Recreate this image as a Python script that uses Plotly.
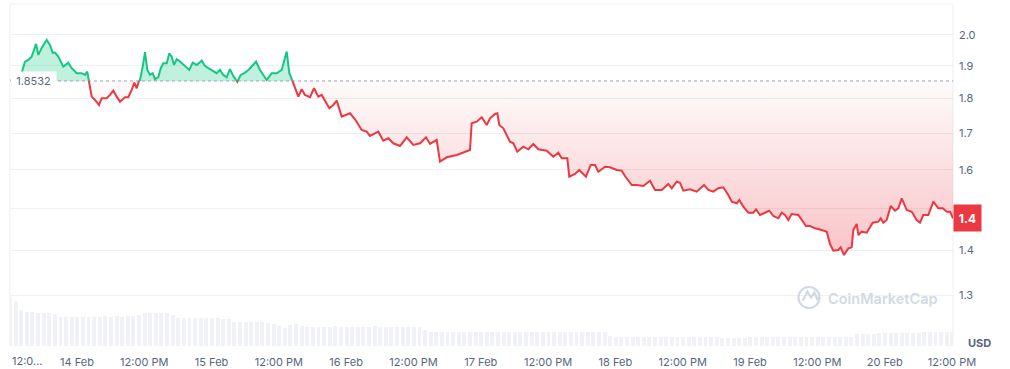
import numpy as np
import pandas as pd
import plotly.graph_objects as go

# ---------------- data ----------------
START = pd.Timestamp("2025-02-13 12:04")

# hours since START
hours = [
    0.00, 2.09, 2.67, 3.26, 3.87, 4.64, 5.05, 5.65, 6.54, 7.13,
    7.61, 8.02, 8.61, 9.50, 10.39, 11.00, 11.89, 12.78, 13.37, 13.78,
    14.08, 14.57, 15.15, 15.87, 16.35, 17.24, 17.83, 18.42, 19.02, 19.61,
    20.50, 21.09, 21.70, 22.16, 22.59, 22.87, 23.18, 23.66, 24.07, 24.48,
    24.96, 25.44, 25.85, 26.44, 26.87, 27.33, 27.94, 28.40, 28.83, 29.24,
    29.72, 30.31, 31.20, 31.97, 32.57, 33.29, 34.18, 34.77, 35.35, 36.25,
    36.85, 37.44, 38.03, 38.63, 39.22, 39.81, 40.52, 41.13, 41.90, 42.66,
    43.86, 44.57, 45.77, 46.66, 47.55, 48.44, 49.33, 49.80, 50.40, 51.40,
    52.01, 52.59, 53.49, 54.20, 54.97, 55.57, 56.93, 57.64, 58.25, 59.14,
    60.62, 61.51, 62.70, 63.59, 64.18, 65.66, 66.55, 67.45, 68.34, 69.53,
    70.73, 71.90, 73.10, 74.17, 74.88, 76.07, 76.66, 77.86, 79.64, 82.01,
    82.31, 83.21, 84.10, 84.99, 85.58, 86.47, 86.88, 87.23, 87.95, 89.14,
    89.73, 90.44, 91.51, 92.41, 93.30, 94.19, 95.69, 96.86, 97.75, 98.36,
    99.36, 99.71, 100.73, 101.50, 102.69, 103.53, 104.30, 104.89, 106.08, 106.97,
    108.16, 109.06, 109.64, 110.84, 111.73, 112.91, 114.10, 114.99, 116.19, 117.37,
    117.97, 118.86, 119.45, 120.04, 121.23, 121.82, 122.43, 123.73, 124.50, 125.39,
    126.28, 127.17, 128.06, 128.67, 129.56, 130.02, 130.74, 131.63, 132.52, 133.00,
    133.71, 134.60, 135.37, 136.09, 136.98, 137.58, 138.17, 138.76, 139.36, 140.54,
    141.43, 141.91, 142.63, 143.52, 144.71, 145.61, 146.19, 146.78, 147.67, 148.10,
    148.69, 149.46, 150.06, 150.35, 150.95, 151.25, 151.84, 152.73, 153.81, 154.80,
    155.23, 155.70, 156.30, 157.02, 157.78, 158.37, 158.98, 159.87, 160.76, 161.65,
    162.24, 162.83, 163.72, 164.61, 165.50, 166.28, 167.00, 167.59, 168.12,
]

prices = [
    1.8532, 1.8789, 1.9135, 1.9189, 1.9294, 1.9704, 1.9348, 1.9574, 1.9835, 1.9670,
    1.9412, 1.9422, 1.9294, 1.8977, 1.9103, 1.8927, 1.8771, 1.8771, 1.8718, 1.8820,
    1.8511, 1.8057, 1.7958, 1.7810, 1.8009, 1.8009, 1.8108, 1.8237, 1.8057, 1.7908,
    1.8039, 1.8039, 1.8258, 1.8481, 1.8310, 1.8511, 1.8563, 1.8977, 1.9435, 1.8873,
    1.8718, 1.8771, 1.8585, 1.8647, 1.8927, 1.9084, 1.9084, 1.9402, 1.9294, 1.9030,
    1.9211, 1.9135, 1.8977, 1.8873, 1.9103, 1.9030, 1.9166, 1.8999, 1.8927, 1.8820,
    1.8771, 1.8873, 1.8718, 1.8647, 1.8895, 1.8687, 1.8510, 1.8718, 1.8789, 1.8895,
    1.9135, 1.8873, 1.8563, 1.8771, 1.8771, 1.8873, 1.9454, 1.8771, 1.8511, 1.8057,
    1.8280, 1.8108, 1.8039, 1.8310, 1.8057, 1.8108, 1.7713, 1.7810, 1.7938, 1.7468,
    1.7567, 1.7393, 1.7088, 1.7040, 1.6919, 1.7040, 1.6788, 1.6854, 1.6715, 1.6641,
    1.6882, 1.6668, 1.6715, 1.6882, 1.6696, 1.6807, 1.6214, 1.6332, 1.6395, 1.6531,
    1.7278, 1.7324, 1.7451, 1.7230, 1.7422, 1.7547, 1.7567, 1.7230, 1.7136, 1.6760,
    1.6715, 1.6484, 1.6622, 1.6550, 1.6696, 1.6550, 1.6512, 1.6349, 1.6457, 1.6305,
    1.6305, 1.5816, 1.5887, 1.5992, 1.5816, 1.6125, 1.6125, 1.5947, 1.6080, 1.6064,
    1.5992, 1.5974, 1.5834, 1.5600, 1.5600, 1.5574, 1.5711, 1.5471, 1.5471, 1.5626,
    1.5515, 1.5685, 1.5659, 1.5453, 1.5489, 1.5453, 1.5428, 1.5600, 1.5471, 1.5428,
    1.5515, 1.5541, 1.5344, 1.5174, 1.5134, 1.5217, 1.5049, 1.4900, 1.4900, 1.4984,
    1.4844, 1.4900, 1.4950, 1.4819, 1.4763, 1.4900, 1.4844, 1.4721, 1.4868, 1.4844,
    1.4680, 1.4576, 1.4576, 1.4520, 1.4479, 1.4439, 1.4147, 1.3991, 1.4008, 1.4070,
    1.3892, 1.4047, 1.4070, 1.4479, 1.4624, 1.4360, 1.4439, 1.4415, 1.4655, 1.4680,
    1.4763, 1.4655, 1.4721, 1.5066, 1.4950, 1.5009, 1.5260, 1.4967, 1.4925, 1.4721,
    1.4655, 1.4844, 1.4844, 1.5174, 1.5009, 1.5009, 1.4925, 1.4925, 1.4763,
]

# hourly volume (relative units)
volumes = [
    48, 45, 36, 34, 34, 33, 33, 33, 32, 29,
    29, 29, 29, 29, 29, 29, 29, 30, 29, 30,
    29, 30, 30, 31, 33, 33, 33.5, 33, 33.5, 31,
    28, 28, 28, 28.5, 28, 28, 28, 28, 27.5, 27,
    24, 24, 24.5, 24.5, 24, 24, 23, 22, 20, 18.5,
    21, 22, 20, 19.5, 19.5, 19, 19.5, 19.5, 20, 19.5,
    19.5, 19, 19.5, 19.5, 19.5, 20, 19.5, 19.5, 19, 19.5,
    19.5, 19.5, 19.5, 19.5, 16, 14, 14, 14, 14, 14,
    14, 14, 14, 14, 14, 14, 14, 14, 14.5, 14.5,
    14.5, 14.5, 14.5, 14, 14.5, 14.5, 14.5, 14.5, 14.5, 14,
    14.5, 14.5, 14.5, 14.5, 14.5, 14, 14, 10, 9.5, 9.5,
    9.5, 9.5, 9.5, 9.5, 9.5, 9.5, 9.5, 9.5, 9.5, 9.5,
    9.5, 9, 9, 9, 9, 9, 9, 8.5, 8, 8,
    8, 8.5, 9, 9, 9, 9.5, 9.5, 9.5, 9.5, 9.5,
    9.5, 9.5, 9.5, 9.5, 9.5, 9.5, 9.5, 9.5, 9.5, 9.5,
    9.5, 12, 12, 12.5, 12.5, 13, 13, 13, 13, 13,
    13.5, 13.5, 13.5, 14, 14, 14, 14, 14, 14,
]

x_tick_times = [
    "2025-02-14 00:00", "2025-02-14 12:00", "2025-02-15 00:00", "2025-02-15 12:00",
    "2025-02-16 00:00", "2025-02-16 12:00", "2025-02-17 00:00", "2025-02-17 12:00",
    "2025-02-18 00:00", "2025-02-18 12:00", "2025-02-19 00:00", "2025-02-19 12:00",
    "2025-02-20 00:00", "2025-02-20 12:00",
]
x_tick_text = [
    "14 Feb", "12:00 PM", "15 Feb", "12:00 PM", "16 Feb", "12:00 PM", "17 Feb",
    "12:00 PM", "18 Feb", "12:00 PM", "19 Feb", "12:00 PM", "20 Feb", "12:00 PM",
]
first_tick_text = "12:0..."
y_tick_vals = [1.3, 1.4, 1.5, 1.6, 1.7, 1.8, 1.9, 2.0]
y_tick_text = ["1.3", "1.4", "1.5", "1.6", "1.7", "1.8", "1.9", "2.0"]
price_badge_text = "1.4"
currency = "USD"
watermark = "CoinMarketCap"

# ---------------- styling ----------------
GREEN = "#16c784"
RED = "#ea3943"
TXT = "#58667e"
FONT = "Inter"

base = prices[0]

# insert baseline crossings so colours switch exactly at the baseline
xs, ys = [], []
for i in range(len(prices)):
    if i > 0:
        p1, p2 = prices[i - 1], prices[i]
        if (p1 - base) * (p2 - base) < 0:
            f = (np.log(base) - np.log(p1)) / (np.log(p2) - np.log(p1))
            xs.append(hours[i - 1] + f * (hours[i] - hours[i - 1]))
            ys.append(base)
    xs.append(hours[i])
    ys.append(prices[i])

t = [START + pd.Timedelta(hours=h) for h in xs]
up = [max(y, base) for y in ys]
down = [min(y, base) for y in ys]
green_line = [y if y >= base else None for y in ys]
red_line = [y if y <= base else None for y in ys]
base_line = [base] * len(ys)

vol_t = [START + pd.Timedelta(hours=i) for i in range(len(volumes))]
t_end = START + pd.Timedelta(hours=hours[-1])

fig = go.Figure()
fig.add_trace(go.Scatter(x=t, y=base_line, mode="lines", line=dict(width=0),
                         hoverinfo="skip", showlegend=False))
fig.add_trace(go.Scatter(x=t, y=up, mode="lines", line=dict(width=0), fill="tonexty",
                         fillcolor="rgba(22,199,132,0.27)", hoverinfo="skip", showlegend=False))
fig.add_trace(go.Scatter(x=t, y=base_line, mode="lines", line=dict(width=0),
                         hoverinfo="skip", showlegend=False))
fig.add_trace(go.Scatter(x=t, y=down, mode="lines", line=dict(width=0), fill="tonexty",
                         fillgradient=dict(type="vertical",
                                           colorscale=[[0, "rgba(234,57,67,0.30)"],
                                                       [1, "rgba(234,57,67,0.02)"]]),
                         hoverinfo="skip", showlegend=False))
fig.add_trace(go.Scatter(x=[START, t_end], y=[base, base], mode="lines",
                         line=dict(color="#9aa3b5", width=1, dash="dot"),
                         hoverinfo="skip", showlegend=False))
fig.add_trace(go.Scatter(x=t, y=green_line, mode="lines", connectgaps=False,
                         line=dict(color=GREEN, width=2), showlegend=False))
fig.add_trace(go.Scatter(x=t, y=red_line, mode="lines", connectgaps=False,
                         line=dict(color=RED, width=2), showlegend=False))
fig.add_trace(go.Bar(x=vol_t, y=volumes, yaxis="y2", width=3600000 * 0.7,
                     marker=dict(color="#f0f2f5", line=dict(width=0)), showlegend=False))

W, H = 1010, 369
ML, MR, MT, MB = 10, 57, 4, 23
PW, PH = W - ML - MR, H - MT - MB


def px_x(px):
    return (px - ML) / PW


def px_y(py):
    return (H - MB - py) / PH


fig.update_layout(
    width=W, height=H,
    margin=dict(l=ML, r=MR, t=MT, b=MB, autoexpand=False),
    paper_bgcolor="white", plot_bgcolor="white",
    font=dict(family=FONT, color=TXT, size=11),
    showlegend=False,
    xaxis=dict(type="date", range=[START, t_end], showgrid=False, zeroline=False,
               showline=False, ticks="", tickvals=x_tick_times, ticktext=x_tick_text,
               tickfont=dict(family=FONT, size=11, color=TXT), ticklabelstandoff=8,
               automargin=False),
    yaxis=dict(type="log", range=[np.log10(1.195), np.log10(2.105)], side="right",
               tickvals=y_tick_vals, ticktext=y_tick_text, showgrid=True,
               gridcolor="#eef0f3", gridwidth=1, zeroline=False, showline=False, ticks="",
               tickfont=dict(family=FONT, size=11, color=TXT), ticklabelstandoff=5,
               automargin=False),
    yaxis2=dict(overlaying="y", range=[0, max(volumes) * PH / 48], visible=False,
                automargin=False),
    bargap=0,
)

ann = []
ann.append(dict(x=0, xref="paper", xanchor="left", y=np.log10(base), yref="y",
                yanchor="middle", text=f"{base:.4f}", showarrow=False, bgcolor="white",
                width=43, height=16, borderpad=1,
                font=dict(family=FONT, size=11, color=TXT)))
ann.append(dict(x=1, xref="paper", xanchor="left", y=np.log10(prices[-1]), yref="y",
                yanchor="middle", text=f"<b>{price_badge_text}</b>", showarrow=False,
                bgcolor=RED, width=23, height=22, borderpad=2,
                font=dict(family=FONT, size=12, color="white")))
ann.append(dict(x=px_x(979), xref="paper", xanchor="center", y=px_y(343), yref="paper",
                yanchor="middle", text=f"<b>{currency}</b>", showarrow=False,
                font=dict(family=FONT, size=11, color=TXT)))
ann.append(dict(x=px_x(27), xref="paper", xanchor="center", y=px_y(361), yref="paper",
                yanchor="middle", text=first_tick_text, showarrow=False,
                font=dict(family=FONT, size=11, color=TXT)))
ann.append(dict(x=px_x(883), xref="paper", xanchor="center", y=px_y(298), yref="paper",
                yanchor="middle", text=watermark, showarrow=False,
                font=dict(family=FONT, size=14.5, color="#d3d9e3", weight=600)))
fig.update_layout(annotations=ann)

WM = "#d3d9e3"
shapes = [
    dict(type="path", xref="paper", yref="paper", path="M 0 0 L 0 1 L 1 1 L 1 0",
         line=dict(color="#eceff3", width=1), layer="below"),
    dict(type="circle", xref="paper", yref="paper",
         x0=px_x(798.5), x1=px_x(819.5), y0=px_y(308), y1=px_y(287),
         line=dict(color=WM, width=2.2)),
    dict(type="path", xref="paper", yref="paper",
         path=(f"M {px_x(802.7)} {px_y(300.7)} L {px_x(807.5)} {px_y(291.5)} "
               f"L {px_x(811)} {px_y(297.5)} L {px_x(814.5)} {px_y(292.5)} "
               f"L {px_x(817)} {px_y(299)} L {px_x(820)} {px_y(297)}"),
         line=dict(color=WM, width=2.2)),
]
fig.update_layout(shapes=shapes)

fig.write_html("out.html")
